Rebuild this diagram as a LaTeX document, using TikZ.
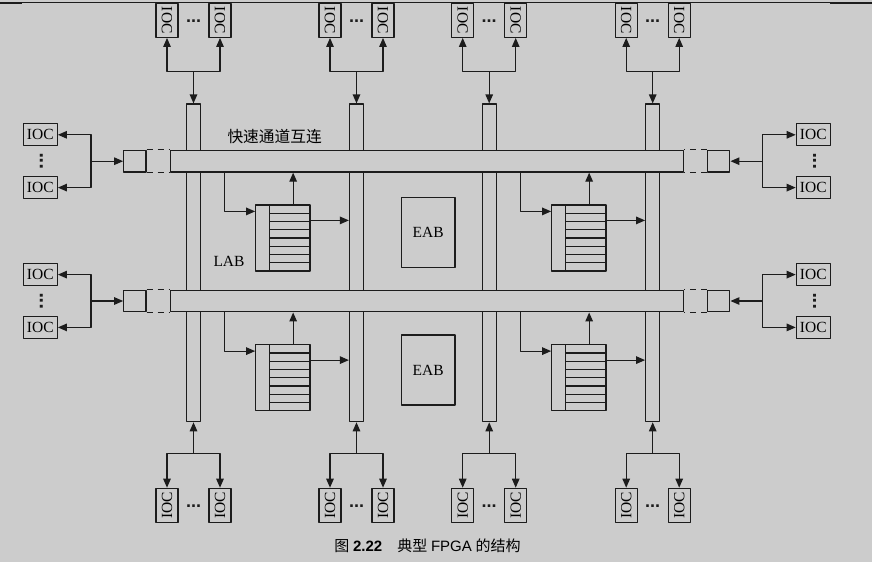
\documentclass[tikz,border=0pt]{standalone}
\usepackage{fontspec}
\usepackage{graphicx}
\setmainfont{Liberation Serif}
\newfontfamily\cjk{Noto Sans CJK SC}
\newfontfamily\capsans{Liberation Sans}
\usetikzlibrary{arrows.meta}
\definecolor{panel}{RGB}{204,204,204}
\definecolor{ink}{RGB}{28,28,28}
\tikzset{
	unit/.style={draw=ink, fill=panel, line width=1.2pt, inner sep=0pt},
	ioch/.style={unit, minimum width=34pt, minimum height=22pt},
	iocv/.style={unit, minimum width=22pt, minimum height=34pt},
	vbus/.style={unit, minimum width=14pt, minimum height=317.7pt},
	hbus/.style={unit, minimum width=512.6pt, minimum height=21.7pt},
	endbox/.style={unit, minimum width=22.3pt, minimum height=21.7pt},
	eab/.style={unit, minimum width=53.7pt, minimum height=70pt},
	lab/.style={unit, minimum width=54.3pt, minimum height=66pt,
		path picture={
			\draw[ink, line width=1.2pt] ([xshift=13.6pt]path picture bounding box.north west) -- ([xshift=13.6pt]path picture bounding box.south west);
			\foreach \k in {1,...,7}
			\draw[ink, line width=1.2pt] ([xshift=13.6pt,yshift=-\k*8.25pt]path picture bounding box.north west) -- ([yshift=-\k*8.25pt]path picture bounding box.north east);
		}},
	wire/.style={draw=ink, line width=1.2pt},
	gap/.style={draw=ink, line width=1.2pt, dash pattern=on 6pt off 5pt},
	hdots/.style={inner sep=0pt, text=ink, font=\capsans\bfseries\fontsize{18}{18}\selectfont},
	vdotsnode/.style={inner sep=0pt, text=ink, font=\capsans\bfseries\fontsize{20}{20}\selectfont}
}
\begin{document}
\begin{tikzpicture}[x=1pt, y=-1pt, >={Triangle[length=9pt,width=7.5pt]}, line join=round, font=\fontsize{15.5}{17}\selectfont]
	\fill[panel] (0,0) rectangle (872,562);
	\useasboundingbox (0,0) rectangle (872,562);
	\draw[ink, line width=0.8pt] (0,2.5) -- (872,2.5);
	\draw[ink, line width=2pt] (0,2.5) -- (22,2.5) (830,2.5) -- (872,2.5);
	% columns
	\foreach \c/\xc in {1/193.5,2/356.5,3/489.2,4/652.7}{
		\node[vbus] (v\c) at (\xc,262.85) {};
		\node[iocv] (ta\c) at (\xc-26.5,20.3) {\rotatebox{-90}{IOC}};
		\node[iocv] (tb\c) at (\xc+26.5,20.3) {\rotatebox{-90}{IOC}};
		\node[hdots] (td\c) at (\xc,21.5) {...};
		\coordinate (tj\c) at (\xc,71.3);
		\draw[wire,->] (tj\c) -- (v\c.north);
		\draw[wire,->] (tj\c) -| (ta\c.south);
		\draw[wire,->] (tj\c) -| (tb\c.south);
		\node[iocv] (ba\c) at (\xc-26.5,505.3) {\rotatebox{90}{IOC}};
		\node[iocv] (bb\c) at (\xc+26.5,505.3) {\rotatebox{90}{IOC}};
		\node[hdots] (bd\c) at (\xc,506.5) {...};
		\coordinate (bj\c) at (\xc,453.3);
		\draw[wire,->] (bj\c) -- (v\c.south);
		\draw[wire,->] (bj\c) -| (ba\c.north);
		\draw[wire,->] (bj\c) -| (bb\c.north);
	}
	% rows
	\foreach \r/\yr in {1/161.2,2/301}{
		\node[hbus] (h\r) at (427,\yr) {};
		\node[endbox] (l\r) at (134.9,\yr) {};
		\node[endbox] (r\r) at (718.7,\yr) {};
		\draw[gap] (l\r.north east) -- (l\r.north east -| h\r.west);
		\draw[gap] (l\r.south east) -- (l\r.south east -| h\r.west);
		\draw[gap] (r\r.north west) -- (r\r.north west -| h\r.east);
		\draw[gap] (r\r.south west) -- (r\r.south west -| h\r.east);
		\node[ioch] (la\r) at (40.3,\yr-26.4) {IOC};
		\node[ioch] (lb\r) at (40.3,\yr+26.4) {IOC};
		\node[vdotsnode] (ld\r) at (41.5,\yr) {\rotatebox{90}{...}};
		\coordinate (lj\r) at (91,\yr);
		\draw[wire,->] (lj\r) -- (l\r.west);
		\draw[wire,->] (lj\r) |- (la\r.east);
		\draw[wire,->] (lj\r) |- (lb\r.east);
		\node[ioch] (ra\r) at (813.3,\yr-26.4) {IOC};
		\node[ioch] (rb\r) at (813.3,\yr+26.4) {IOC};
		\node[vdotsnode] (rd\r) at (814.5,\yr) {\rotatebox{90}{...}};
		\coordinate (rj\r) at (762.3,\yr);
		\draw[wire,->] (rj\r) -- (r\r.east);
		\draw[wire,->] (rj\r) |- (ra\r.west);
		\draw[wire,->] (rj\r) |- (rb\r.west);
	}
	% logic blocks
	\foreach \r/\yr/\ye in {1/238/232.3,2/377.7/370}{
		\node[eab] (eab\r) at (428.2,\ye) {EAB};
		\foreach \s/\n/\xl in {a/2/282.9,b/4/578.9}{
			\node[lab] (lab\r\s) at (\xl,\yr) {};
			\coordinate (in\r\s) at ([xshift=-31pt]lab\r\s.north west);
			\coordinate (up\r\s) at ([xshift=38pt]lab\r\s.north west);
			\coordinate (out\r\s) at ([yshift=-16pt]lab\r\s.north east);
			\draw[wire,->] (in\r\s |- h\r.south) |- ([yshift=-7pt]lab\r\s.north west);
			\draw[wire,->] (up\r\s) -- (up\r\s |- h\r.south);
			\draw[wire,->] (out\r\s) -- (out\r\s -| v\n.west);
		}
	}
	\node (lablabel) at (229,261) {LAB};
	\node[anchor=west, inner sep=0pt, font=\cjk\fontsize{15.7}{17}\selectfont] (fastlabel) at (227.3,136.7) {快速通道互连};
	\node[inner sep=0pt, font=\fontsize{15}{17}\selectfont] (caption) at (427.5,545.7) {{\cjk 图} {\capsans\bfseries 2.22}\hspace{1em}{\cjk 典型} {\capsans FPGA} {\cjk 的结构}};
\end{tikzpicture}
\end{document}
